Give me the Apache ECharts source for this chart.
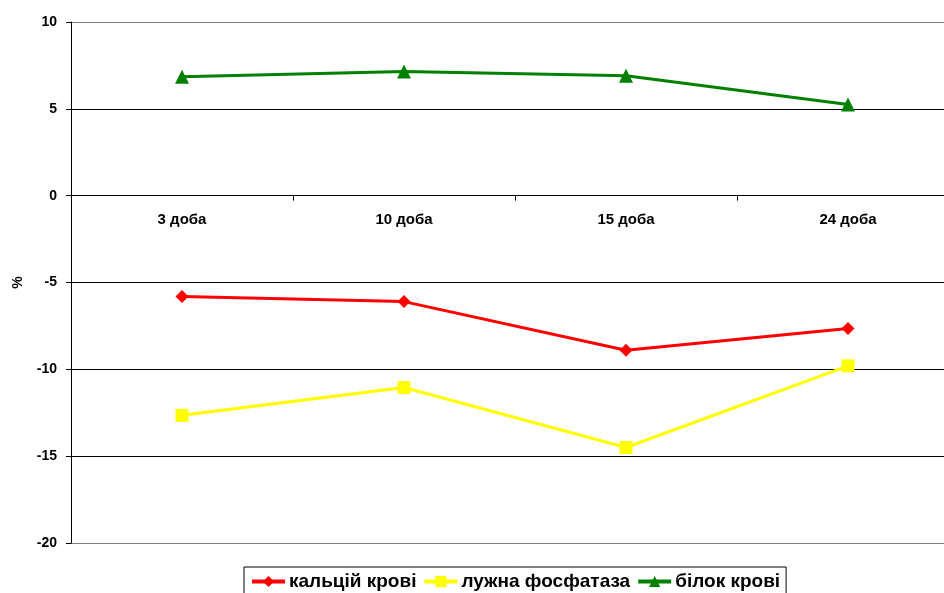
<!DOCTYPE html>
<html>
<head>
<meta charset="utf-8">
<script src="https://cdn.jsdelivr.net/npm/echarts@6/dist/echarts.min.js"></script>
<style>
  html, body { margin: 0; padding: 0; background: #fff; }
  #chart { width: 944px; height: 593px; }
</style>
</head>
<body>
<div id="chart"></div>
<script>
// Days of observation
const categories = ['3 доба', '10 доба', '15 доба', '24 доба'];

// Change relative to control, %
const calcium = [-5.8, -6.1, -8.9, -7.65];
const phosphatase = [-12.65, -11.05, -14.5, -9.8];
const protein = [6.85, 7.15, 6.9, 5.25];

const yTicks = [-20, -15, -10, -5, 0, 5, 10];

const FONT = '"Liberation Sans", Arial, sans-serif';

const chart = echarts.init(document.getElementById('chart'));

// Category labels sit just under the zero line; the axis itself is anchored to the
// grid bottom, so the label margin is shifted up by the zero line's offset.
const GRID_TOP = 22, GRID_BOTTOM = 50, CHART_H = 593;
const plotH = CHART_H - GRID_TOP - GRID_BOTTOM;
const zeroOffset = plotH * (0 - yTicks[0]) / (yTicks[yTicks.length - 1] - yTicks[0]);

chart.setOption({
  animation: false,
  grid: {
    left: 71, top: GRID_TOP, width: 888, bottom: GRID_BOTTOM,
    containLabel: false, outerBoundsMode: 'none'
  },
  legend: {
    top: 567,
    left: 244,
    itemWidth: 33,
    itemHeight: 14,
    itemGap: 6,
    padding: [5, 6, 14, 6],
    borderColor: '#000',
    borderWidth: 1,
    lineStyle: { width: 4 },
    textStyle: { fontFamily: FONT, fontWeight: 'bold', fontSize: 19, color: '#000', padding: [0, 0, 0, -1] },
    data: ['кальцій крові', 'лужна фосфатаза', 'білок крові']
  },
  xAxis: {
    type: 'category',
    data: categories,
    boundaryGap: true,
    axisLine: { onZero: true, lineStyle: { color: '#000', width: 1 } },
    axisTick: { show: true, length: 5, inside: false, lineStyle: { color: '#000' } },
    axisLabel: {
      fontFamily: FONT, fontWeight: 'bold', fontSize: 15, color: '#000',
      margin: 17 - zeroOffset
    },
    splitLine: { show: false }
  },
  yAxis: {
    type: 'value',
    min: yTicks[0],
    max: yTicks[yTicks.length - 1],
    interval: 5,
    name: '%',
    nameLocation: 'middle',
    nameGap: 46,
    nameRotate: 90,
    nameTextStyle: { fontFamily: FONT, fontWeight: 'bold', fontSize: 14, color: '#000' },
    axisLine: { show: true, lineStyle: { color: '#000', width: 1 } },
    axisTick: { show: true, length: 5, lineStyle: { color: '#000' } },
    axisLabel: { fontFamily: FONT, fontWeight: 'bold', fontSize: 14, color: '#000', margin: 14 },
    splitLine: {
      show: true,
      lineStyle: {
        color: ['#808080', '#000', '#000', '#000', '#000', '#000', '#808080'],
        width: 1
      }
    }
  },
  series: [
    {
      name: 'кальцій крові',
      type: 'line',
      data: calcium,
      symbol: 'diamond',
      symbolSize: 13,
      lineStyle: { color: '#ff0000', width: 3 },
      itemStyle: { color: '#ff0000' }
    },
    {
      name: 'лужна фосфатаза',
      type: 'line',
      data: phosphatase,
      symbol: 'rect',
      symbolSize: 13,
      lineStyle: { color: '#ffff00', width: 3 },
      itemStyle: { color: '#ffff00' }
    },
    {
      name: 'білок крові',
      type: 'line',
      data: protein,
      symbol: 'triangle',
      symbolSize: 14,
      lineStyle: { color: '#008000', width: 3 },
      itemStyle: { color: '#008000' }
    }
  ]
});
</script>
</body>
</html>
